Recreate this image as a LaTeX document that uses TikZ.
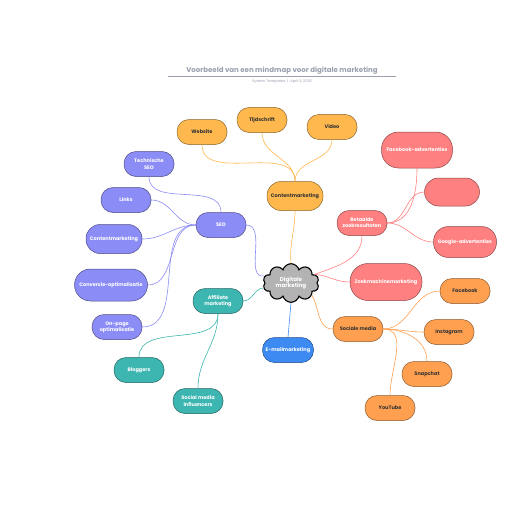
\documentclass[tikz,border=0pt]{standalone}
\usepackage{fontspec}
\setmainfont{Poppins}
\usetikzlibrary{shapes.symbols}
\definecolor{cOr}{HTML}{FFB84D}
\definecolor{cPu}{HTML}{8C8CF7}
\definecolor{cTe}{HTML}{3DB6B1}
\definecolor{cBl}{HTML}{3D8BF2}
\definecolor{cRe}{HTML}{FF8080}
\definecolor{cSo}{HTML}{FFA050}
\definecolor{cGr}{HTML}{B3B3B3}
\definecolor{cTi}{HTML}{9AA0B0}
\tikzset{
  pill/.style={draw=#1!55!black, fill=#1, line width=0.5pt, rounded corners=12pt,
    minimum width=50pt, minimum height=25pt, align=center, inner sep=1pt,
    font=\fontsize{5}{6.2}\selectfont\bfseries},
  wt/.style={text=white},
  dk/.style={text=black!80},
  link/.style={draw=#1, line width=0.6pt},
}
\begin{document}
\begin{tikzpicture}[x=1pt,y=-1pt]
\useasboundingbox (0,0) rectangle (516,516);
\fill[white] (0,0) rectangle (516,516);
% title
\node[text=cTi, font=\fontsize{7}{8}\selectfont\bfseries] (title) at (282,71) {Voorbeeld van een mindmap voor digitale marketing};
\draw[cTi, line width=0.6pt] (168,76.5) -- (396,76.5);
\node[text=cTi, font=\fontsize{3.6}{4}\selectfont] (sub) at (282,81.5) {System Templates \ | \ April 5, 2025};
% central
\node[cloud, cloud puffs=10, aspect=1.45, draw=black, line width=1.1pt, fill=cGr, text=white,
  minimum width=56pt, minimum height=38pt, inner sep=0pt, align=center,
  font=\fontsize{5.6}{6.8}\selectfont\bfseries] (dm) at (291,283) {Digitale\\marketing};
% content marketing branch
\node[pill=cOr, dk, minimum width=56pt, minimum height=29pt, rounded corners=14pt] (cm) at (295,196) {Contentmarketing};
\node[pill=cOr, dk] (web) at (202,132) {Website};
\node[pill=cOr, dk] (tij) at (262,120) {Tijdschrift};
\node[pill=cOr, dk] (vid) at (332,127) {Video};
% SEO branch
\node[pill=cPu, wt] (seo) at (221,225) {SEO};
\node[pill=cPu, wt] (tec) at (149,164) {Technische\\SEO};
\node[pill=cPu, wt] (lin) at (126,200) {Links};
\node[pill=cPu, wt, minimum width=56pt, minimum height=29pt, rounded corners=14pt] (cm2) at (114,239) {Contentmarketing};
\node[pill=cPu, wt, minimum width=73pt, minimum height=32pt, rounded corners=16pt] (con) at (111,285) {Conversie-optimalisatie};
\node[pill=cPu, wt] (onp) at (117,327) {On-page\\optimalisatie};
% affiliate
\node[pill=cTe, wt] (aff) at (218,301) {Affiliate\\marketing};
\node[pill=cTe, wt] (blo) at (139,370) {Bloggers};
\node[pill=cTe, wt] (smi) at (198,401) {Social media\\influencers};
% email
\node[pill=cBl, wt, minimum width=51pt] (em) at (288,350) {E-mailmarketing};
% paid
\node[pill=cRe, wt] (bz) at (362,223) {Betaalde\\zoekresultaten};
\node[pill=cRe, wt, minimum width=71pt, minimum height=36pt, rounded corners=17pt] (fba) at (417,150) {Facebook-advertenties};
\node[pill=cRe, wt, minimum width=55pt, minimum height=28pt, rounded corners=14pt] (emp) at (452,192) {};
\node[pill=cRe, wt, minimum width=63pt, minimum height=31pt, rounded corners=15pt] (gad) at (465,242) {Google-advertenties};
\node[pill=cRe, wt, minimum width=72pt, minimum height=37pt, rounded corners=18pt] (zm) at (386,282) {Zoekmachinemarketing};
% social
\node[pill=cSo, dk] (sm) at (358,329) {Sociale media};
\node[pill=cSo, dk] (fb) at (465,291) {Facebook};
\node[pill=cSo, dk] (ig) at (449,332) {Instagram};
\node[pill=cSo, dk] (sn) at (427,374) {Snapchat};
\node[pill=cSo, dk] (yt) at (390,408) {YouTube};
% connectors from center
\draw[link=cOr] (dm.north) to[out=95,in=-90] (cm.south);
\draw[link=cPu] (dm.165) to[out=190,in=0] (seo.east);
\draw[link=cTe] (dm.190) to[out=185,in=0] (aff.east);
\draw[link=cBl] (dm.south) to[out=-95,in=85] (em.north);
\draw[link=cRe] (dm.20) to[out=20,in=-90] (bz.south);
\draw[link=cRe] (dm.20) to[out=-5,in=180] (zm.west);
\draw[link=cSo] (dm.-30) to[out=-60,in=180] (sm.west);
% content children
\draw[link=cOr] (cm.north) to[out=90,in=-90] (web.south);
\draw[link=cOr] (cm.north) to[out=90,in=-90] (tij.south);
\draw[link=cOr] (cm.north) to[out=90,in=-90] (vid.south);
% seo children
\draw[link=cPu] (seo.north) to[out=90,in=-90] (tec.south);
\draw[link=cPu] (seo.west) to[out=180,in=0] (lin.east);
\draw[link=cPu] (seo.west) to[out=180,in=0] (cm2.east);
\draw[link=cPu] (seo.west) to[out=180,in=0] (con.east);
\draw[link=cPu] (seo.west) to[out=180,in=0] (onp.east);
% affiliate children
\draw[link=cTe] (aff.south) to[out=-90,in=90] (blo.north);
\draw[link=cTe] (aff.south) to[out=-90,in=90] (smi.north);
% paid children
\draw[link=cRe] (bz.east) to[out=0,in=-90] (fba.south);
\draw[link=cRe] (bz.east) to[out=0,in=180] (emp.west);
\draw[link=cRe] (bz.east) to[out=0,in=180] (gad.west);
% social children
\draw[link=cSo] (sm.east) to[out=0,in=180] (fb.west);
\draw[link=cSo] (sm.east) to[out=0,in=180] (ig.west);
\draw[link=cSo] (sm.east) to[out=0,in=90] (sn.north);
\draw[link=cSo] (sm.east) to[out=0,in=90] (yt.north);
\end{tikzpicture}
\end{document}
